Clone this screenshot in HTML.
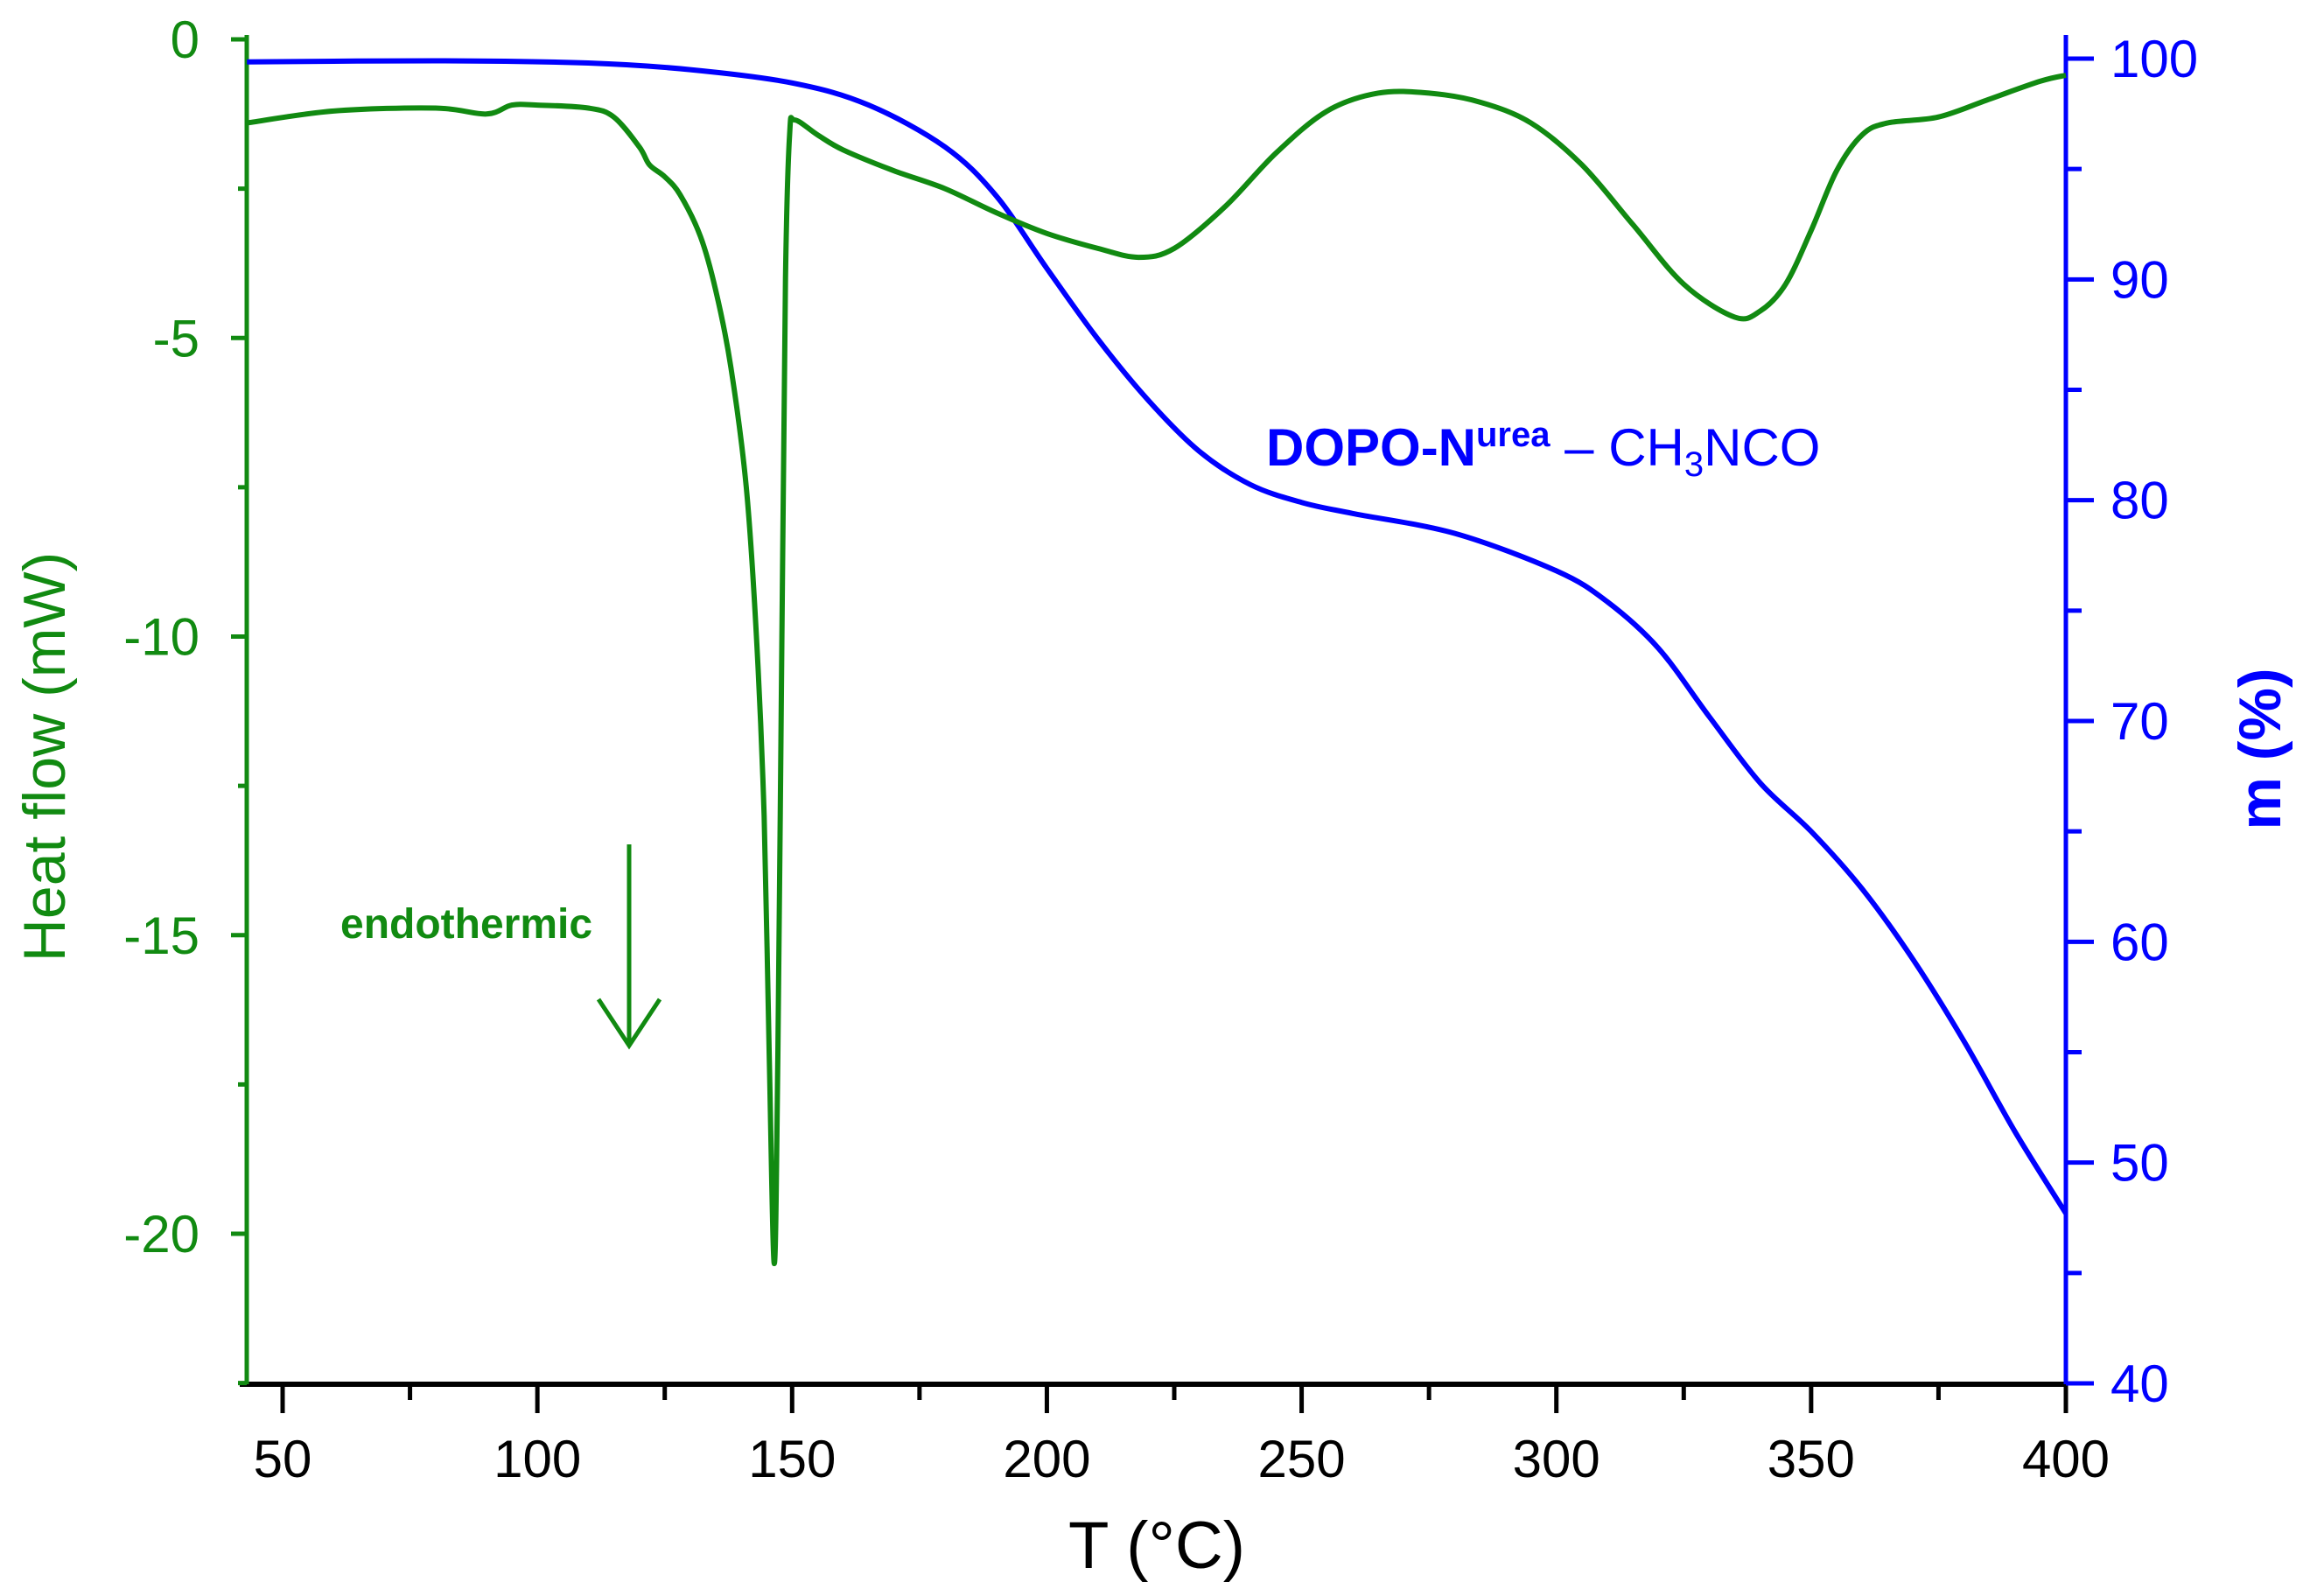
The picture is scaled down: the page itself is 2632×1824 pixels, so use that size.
<!DOCTYPE html>
<html><head><meta charset="utf-8"><style>
body{margin:0;background:#fff}
svg{display:block;font-family:"Liberation Sans",sans-serif}
</style></head><body>
<svg id="chart" width="2632" height="1824" viewBox="0 0 2632 1824" xmlns="http://www.w3.org/2000/svg">
<g id="axes"></g>
<g id="series"></g>
<text x="1322" y="1792" font-size="76" text-anchor="middle" fill="#000">T (°C)</text>
<text transform="translate(74,865) rotate(-90)" font-size="68" text-anchor="middle" fill="#118a11">Heat flow (mW)</text>
<text transform="translate(2606,856) rotate(-90)" font-size="68" font-weight="bold" text-anchor="middle" fill="#0000ff">m (%)</text>
<text x="1447" y="532" font-size="60" fill="#0000ff"><tspan font-weight="bold">DOPO-N</tspan><tspan font-weight="bold" font-size="40" dy="-22">urea</tspan><tspan dy="22"> – CH</tspan><tspan font-size="40" dy="12">3</tspan><tspan dy="-12">NCO</tspan></text>
<text x="389" y="1072" font-size="48" font-weight="bold" fill="#118a11">endothermic</text>
<g stroke="#118a11" stroke-width="5" fill="none">
<line x1="719" y1="965" x2="719" y2="1193"/><polyline points="684,1142 719,1195 754,1142"/></g>
</svg>
<script>
const tempsHF=[43,60,80,90,95,100,110,115,120,122,125,128,132,135,138,141,143,144.5,145.5,146.5,147.2,148,148.7,149.5,150.5,155,160,170,180,190,200,210,218,225,235,245,255,265,275,285,295,305,315,325,335,340,345,350,355,360,365,375,385,395,400];
const heatFlow=[-1.4,-1.2,-1.15,-1.25,-1.1,-1.1,-1.15,-1.3,-1.8,-2.1,-2.3,-2.6,-3.3,-4.2,-5.5,-7.5,-10,-13,-17,-20.5,-17,-10,-4,-1.6,-1.35,-1.6,-1.85,-2.2,-2.5,-2.9,-3.25,-3.5,-3.65,-3.5,-2.8,-1.9,-1.2,-0.9,-0.9,-1.05,-1.4,-2.1,-3.1,-4.1,-4.65,-4.55,-4.1,-3.2,-2.2,-1.6,-1.4,-1.3,-1.0,-0.7,-0.6];
const tempsM=[43,80,110,130,150,165,180,190,200,210,220,230,240,250,260,280,300,310,320,330,340,350,360,370,380,390,400];
const mass=[99.85,99.9,99.8,99.5,98.9,97.9,96,93.8,90.5,87.3,84.5,82.2,80.7,79.9,79.4,78.5,76.8,75.4,73.3,70.2,67.2,65,62.4,59.2,55.5,51.4,47.7];
const xTicks=[50,100,150,200,250,300,350,400];
const yLeftTicks=[0,-5,-10,-15,-20];
const yRightTicks=[40,50,60,70,80,90,100];

const NS="http://www.w3.org/2000/svg";
const X0=282,XB=1582,G="#118a11",B="#0000ff";
const xs=t=>323+(t-50)*(2361-323)/350;
const yL=v=>45+(-v)*(1410-45)/20;
const yR=v=>1581-(v-40)*(1581-67)/60;
function mk(tag,attrs,parent){const e=document.createElementNS(NS,tag);for(const k in attrs)e.setAttribute(k,attrs[k]);parent.appendChild(e);return e;}
const ax=document.getElementById('axes'),se=document.getElementById('series');

let e;
e=mk('line',{x1:X0-8,y1:XB,x2:2361,y2:XB,stroke:'#000','stroke-width':6},ax);

e=mk('line',{x1:X0,y1:40,x2:X0,y2:XB,stroke:G,'stroke-width':5},ax);

e=mk('line',{x1:2361,y1:40,x2:2361,y2:XB,stroke:B,'stroke-width':5},ax);


for(let t=50;t<=400;t+=25){const maj=t%50===0;
 e=mk('line',{x1:xs(t),y1:XB,x2:xs(t),y2:XB+(maj?33:18),stroke:'#000','stroke-width':5},ax);
 }
xTicks.forEach(t=>{e=mk('text',{x:xs(t),y:1688,'font-size':60,'text-anchor':'middle',fill:'#000'},ax);e.textContent=t;
 });
for(let v=0;v>=-22.5;v-=2.5){const maj=v%5===0;
 e=mk('line',{x1:X0-(maj?18:10),y1:yL(v),x2:X0,y2:yL(v),stroke:G,'stroke-width':5},ax);
 }
yLeftTicks.forEach(v=>{e=mk('text',{x:228,y:yL(v)+21,'font-size':60,'text-anchor':'end',fill:G},ax);e.textContent=v===0?'0':'-'+(-v);
 });
for(let v=40;v<=100;v+=5){const maj=v%10===0;
 e=mk('line',{x1:2361,y1:yR(v),x2:2361+(maj?32:18),y2:yR(v),stroke:B,'stroke-width':5},ax);
 }
yRightTicks.forEach(v=>{e=mk('text',{x:2412,y:yR(v)+21,'font-size':60,fill:B},ax);e.textContent=v;
 });

function path(ts,vs,yf){
 const p=ts.map((t,i)=>[xs(t),yf(vs[i])]);
 let d='M'+p[0][0].toFixed(1)+','+p[0][1].toFixed(1);
 const k=0.5/3;
 for(let i=0;i<p.length-1;i++){
  const p0=p[Math.max(0,i-1)],p1=p[i],p2=p[i+1],p3=p[Math.min(p.length-1,i+2)];
  const c1=[p1[0]+(p2[0]-p0[0])*k,p1[1]+(p2[1]-p0[1])*k];
  const c2=[p2[0]-(p3[0]-p1[0])*k,p2[1]-(p3[1]-p1[1])*k];
  d+=' C'+c1.map(v=>v.toFixed(1)).join(',')+' '+c2.map(v=>v.toFixed(1)).join(',')+' '+p2[0].toFixed(1)+','+p2[1].toFixed(1);
 }
 return d;}
e=mk('path',{d:path(tempsM,mass,yR),fill:'none',stroke:B,'stroke-width':6,'stroke-linejoin':'round'},se);

e=mk('path',{d:path(tempsHF,heatFlow,yL),fill:'none',stroke:G,'stroke-width':6,'stroke-linejoin':'round'},se);

</script>
</body></html>
